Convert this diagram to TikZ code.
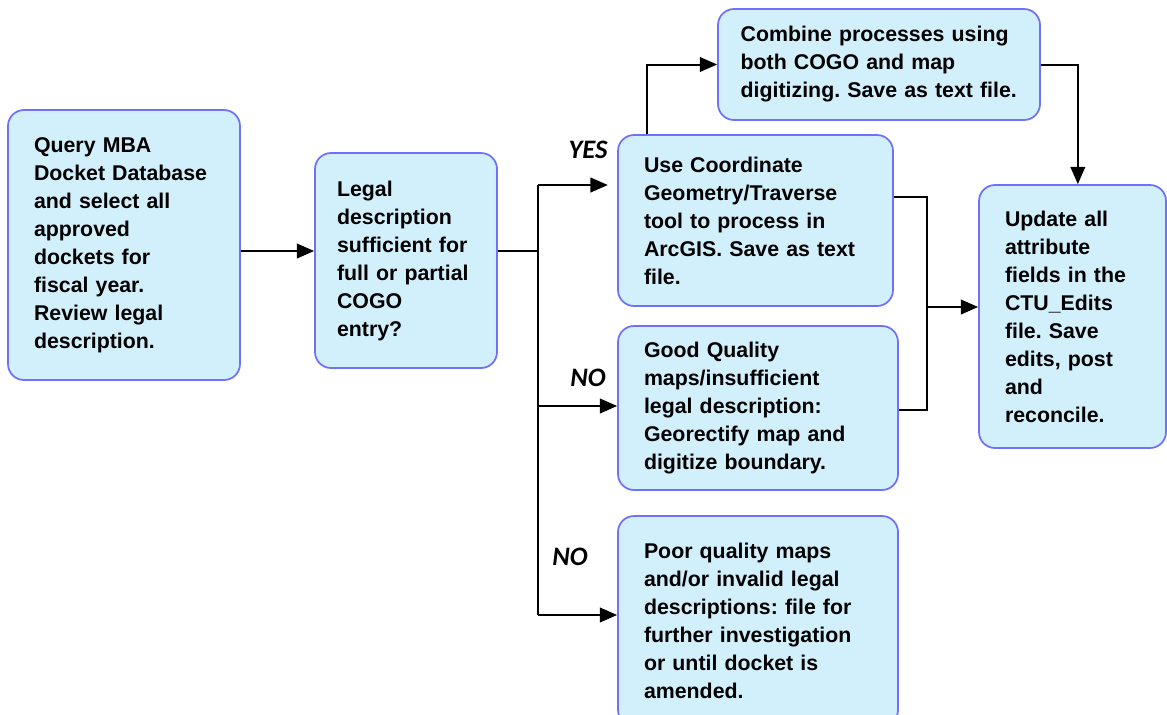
\documentclass[tikz,border=0pt]{standalone}
\usepackage{fontspec}
\setmainfont{Liberation Sans}
\newfontfamily\answerfont{Carlito}
\usetikzlibrary{arrows.meta}
\definecolor{boxline}{RGB}{112,112,250}
\definecolor{boxfill}{RGB}{210,240,252}
\frenchspacing

\begin{document}
\begin{tikzpicture}[x=0.75pt,y=-0.75pt,
  task/.style={draw=boxline, line width=1.3pt, fill=boxfill, rounded corners=12pt,
    align=left, inner xsep=19.5pt, font=\fontsize{16}{21}\selectfont\bfseries},
  answer/.style={font=\answerfont\fontsize{20}{22}\selectfont\bfseries\itshape},
  link/.style={line width=1.5pt},
  arr/.style={link, -{Triangle[length=13pt,width=11pt]}}]
\useasboundingbox (0,0) rectangle (1167,714);
\node[task, text width=135pt, minimum height=202.5pt] (query) at (124,245)
  {Query MBA\\Docket Database\\and select all\\approved\\dockets for\\fiscal year.\\Review legal\\description.};
\node[task, inner xsep=16.5pt, text width=103.5pt, minimum height=161.25pt] (legal) at (406,260.5)
  {Legal\\description\\sufficient for\\full or partial\\COGO\\entry?\\[6pt]};
\node[task, text width=167.25pt, minimum height=128.25pt] (use) at (755.5,220.5)
  {Use Coordinate\\Geometry/Traverse\\tool to process in\\ArcGIS. Save as text\\file.};
\node[task, inner xsep=17pt, text width=207.5pt, minimum height=83.25pt] (combine) at (879,64.5)
  {Combine processes using\\both COGO and map\\digitizing. Save as text file.};
\node[task, text width=101.25pt, minimum height=197.25pt] (update) at (1072.5,316.5)
  {Update all\\attribute\\fields in the\\CTU\_Edits\\file. Save\\edits, post\\and\\reconcile.};
\node[task, text width=171pt, minimum height=123pt] (good) at (758,408)
  {Good Quality\\maps/insufficient\\legal description:\\Georectify map and\\digitize boundary.};
\node[task, text width=171pt, minimum height=157.5pt] (poor) at (758,621)
  {Poor quality maps\\and/or invalid legal\\descriptions: file for\\further investigation\\or until docket is\\amended.};
\node[answer] (yeslabel) at (588,150) {YES};
\node[answer] (nolabel1) at (588,378) {NO};
\node[answer] (nolabel2) at (570,557) {NO};
\coordinate (fork) at (538,251);
\coordinate (yes) at (538,185);
\coordinate (no1) at (538,406);
\coordinate (no2) at (538,615);
\coordinate (mtop) at (927,197);
\coordinate (mmid) at (927,307);
\coordinate (mbot) at (927,410);
\draw[arr] (query.east |- fork) -- (legal.west |- fork);
\draw[link] (legal.east |- fork) -- (fork);
\draw[link] (yes) -- (no2);
\draw[arr, shorten >=7pt] (yes) -- (yes -| use.west);
\draw[arr] (no1) -- (no1 -| good.west);
\draw[arr] (no2) -- (no2 -| poor.west);
\draw[arr] ([xshift=22.5pt]use.north west) |- (combine.west);
\draw[arr] (combine.east) -| ([xshift=4pt]update.north);
\draw[link] (use.east |- mtop) -- (mtop) -- (mbot) -- (mbot -| good.east);
\draw[arr] (mmid) -- (mmid -| update.west);
\end{tikzpicture}
\end{document}
